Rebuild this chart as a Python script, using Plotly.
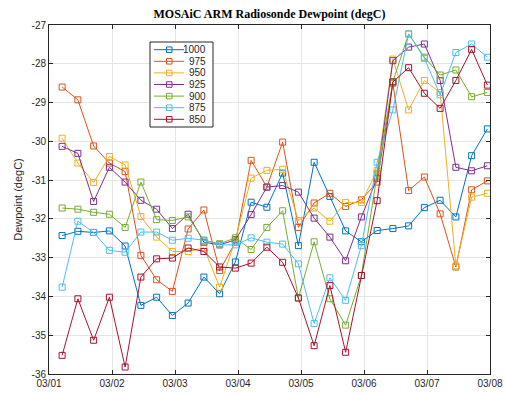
import pandas as pd
import plotly.graph_objects as go

# Radiosonde launch times: 4 per day, starting 03/01 05:00 UTC
times = pd.date_range("2020-03-01 05:00", periods=28, freq="6h")

levels = ["1000", "975", "950", "925", "900", "875", "850"]

dp_1000 = [-32.43, -32.32, -32.35, -32.31, -32.70, -34.23, -34.02, -34.49, -34.17, -33.50,
           -33.93, -33.11, -31.57, -31.70, -30.82, -32.69, -30.54, -31.42, -32.31, -32.59,
           -32.30, -32.25, -32.18, -31.71, -31.52, -31.95, -30.37, -29.68]
dp_975 = [-28.60, -28.93, -30.12, -30.56, -30.78, -32.94, -33.57, -33.87, -32.26, -31.77,
          -33.33, -32.60, -30.49, -31.18, -30.02, -32.22, -31.59, -31.34, -31.68, -31.51,
          -31.05, -28.50, -31.27, -30.92, -31.87, -33.24, -31.25, -31.02]
dp_950 = [-29.92, -30.56, -31.06, -30.39, -30.61, -31.94, -32.47, -32.84, -32.84, -32.75,
          -33.76, -32.54, -30.95, -30.75, -30.72, -32.04, -31.72, -32.06, -31.58, -31.58,
          -30.75, -27.88, -29.19, -28.43, -28.74, -33.21, -31.44, -31.34]
dp_925 = [-30.13, -30.31, -31.55, -30.67, -31.05, -31.52, -31.75, -32.25, -31.88, -32.60,
          -32.67, -32.54, -31.89, -31.18, -31.14, -31.31, -31.98, -32.47, -33.08, -31.95,
          -30.95, -27.92, -27.57, -27.49, -28.43, -30.67, -30.76, -30.63]
dp_900 = [-31.72, -31.75, -31.83, -31.88, -32.22, -31.05, -32.02, -32.04, -31.95, -32.55,
          -32.64, -32.49, -32.79, -32.22, -31.79, -34.04, -32.59, -34.06, -34.74, -33.46,
          -30.84, -28.46, -27.23, -27.83, -28.29, -28.16, -28.85, -28.74]
dp_875 = [-33.76, -32.06, -32.35, -32.81, -32.86, -32.34, -32.34, -32.55, -32.50, -32.55,
          -32.67, -32.67, -32.49, -32.60, -32.65, -33.16, -34.70, -33.52, -34.10, -32.69,
          -30.54, -29.19, -27.23, -27.86, -28.80, -27.71, -27.49, -27.83]
dp_850 = [-35.52, -34.06, -35.13, -34.02, -35.82, -33.50, -33.03, -33.01, -32.75, -32.84,
          -33.24, -33.27, -33.14, -32.73, -33.12, -34.04, -35.27, -33.72, -35.44, -33.46,
          -31.53, -28.47, -28.10, -28.76, -29.15, -28.43, -27.63, -28.55]

series = [dp_1000, dp_975, dp_950, dp_925, dp_900, dp_875, dp_850]
colors = ["#0072BD", "#D95319", "#EDB120", "#7E2F8E", "#77AC30", "#4DBEEE", "#A2142F"]

y_ticks = list(range(-36, -26))
x_ticks = pd.date_range("2020-03-01", "2020-03-08", freq="D")
x_labels = [d.strftime("%m/%d") for d in x_ticks]

W, H = 505, 394
ML, MR, MT, MB = 49, 15, 25, 20
PW, PH = W - ML - MR, H - MT - MB


def px_x(px):
    """Pixel column -> paper x fraction of the plot area."""
    return (px - ML) / PW


def px_y(py):
    """Pixel row -> paper y fraction of the plot area."""
    return (H - MB - py) / PH


fig = go.Figure()
for name, vals, col in zip(levels, series, colors):
    fig.add_trace(go.Scatter(
        x=times, y=vals, name=name, mode="lines+markers",
        line=dict(color=col, width=1),
        marker=dict(symbol="square-open", size=6, color=col, line=dict(width=1)),
        showlegend=False,
    ))

axis_common = dict(
    showline=True, linecolor="#262626", linewidth=1, mirror="ticks",
    ticks="inside", ticklen=4, tickcolor="#262626",
    showgrid=True, gridcolor="#e6e6e6", gridwidth=1, zeroline=False,
    automargin=False,
    tickfont=dict(family="Liberation Sans, Arial", size=10, color="#262626"),
)

fig.update_xaxes(
    range=[x_ticks[0], x_ticks[-1]], tickvals=x_ticks, ticktext=x_labels, **axis_common
)
fig.update_yaxes(
    range=[-36, -27], tickvals=y_ticks, ticktext=[str(v) for v in y_ticks],
    title=dict(text="Dewpoint (degC)", font=dict(family="Liberation Sans, Arial", size=11, color="#262626"), standoff=6),
    **axis_common
)

# Compact boxed legend (line + open square + right-aligned level label)
shapes = []
annotations = []
box_l, box_r, box_t, box_b = 150, 213, 42, 127
shapes.append(dict(type="rect", xref="paper", yref="paper",
                   x0=px_x(box_l), x1=px_x(box_r), y0=px_y(box_b), y1=px_y(box_t),
                   line=dict(color="#262626", width=1), fillcolor="white", layer="above"))
row0, row_gap = 49.7, 11.6
for i, (name, col) in enumerate(zip(levels, colors)):
    cy = row0 + i * row_gap
    shapes.append(dict(type="line", xref="paper", yref="paper",
                       x0=px_x(154), x1=px_x(184), y0=px_y(cy), y1=px_y(cy),
                       line=dict(color=col, width=1), layer="above"))
    shapes.append(dict(type="rect", xref="paper", yref="paper",
                       x0=px_x(166.5), x1=px_x(172), y0=px_y(cy + 2.75), y1=px_y(cy - 2.75),
                       line=dict(color=col, width=1), layer="above"))
    annotations.append(dict(text=name, xref="paper", yref="paper",
                            x=px_x(208), y=px_y(cy), xanchor="right", yanchor="middle",
                            showarrow=False,
                            font=dict(family="Liberation Sans, Arial", size=10, color="#262626")))

fig.update_layout(
    width=W, height=H,
    margin=dict(l=ML, r=MR, t=MT, b=MB),
    paper_bgcolor="white", plot_bgcolor="white",
    title=dict(text="<b>MOSAiC ARM Radiosonde Dewpoint (degC)</b>",
               x=(ML + W - MR) / 2 / W, xanchor="center", y=1 - 14 / H, yanchor="middle",
               font=dict(family="Liberation Serif", size=12, color="black")),
    shapes=shapes,
    annotations=annotations,
    showlegend=False,
)

fig.write_html("out.html")
